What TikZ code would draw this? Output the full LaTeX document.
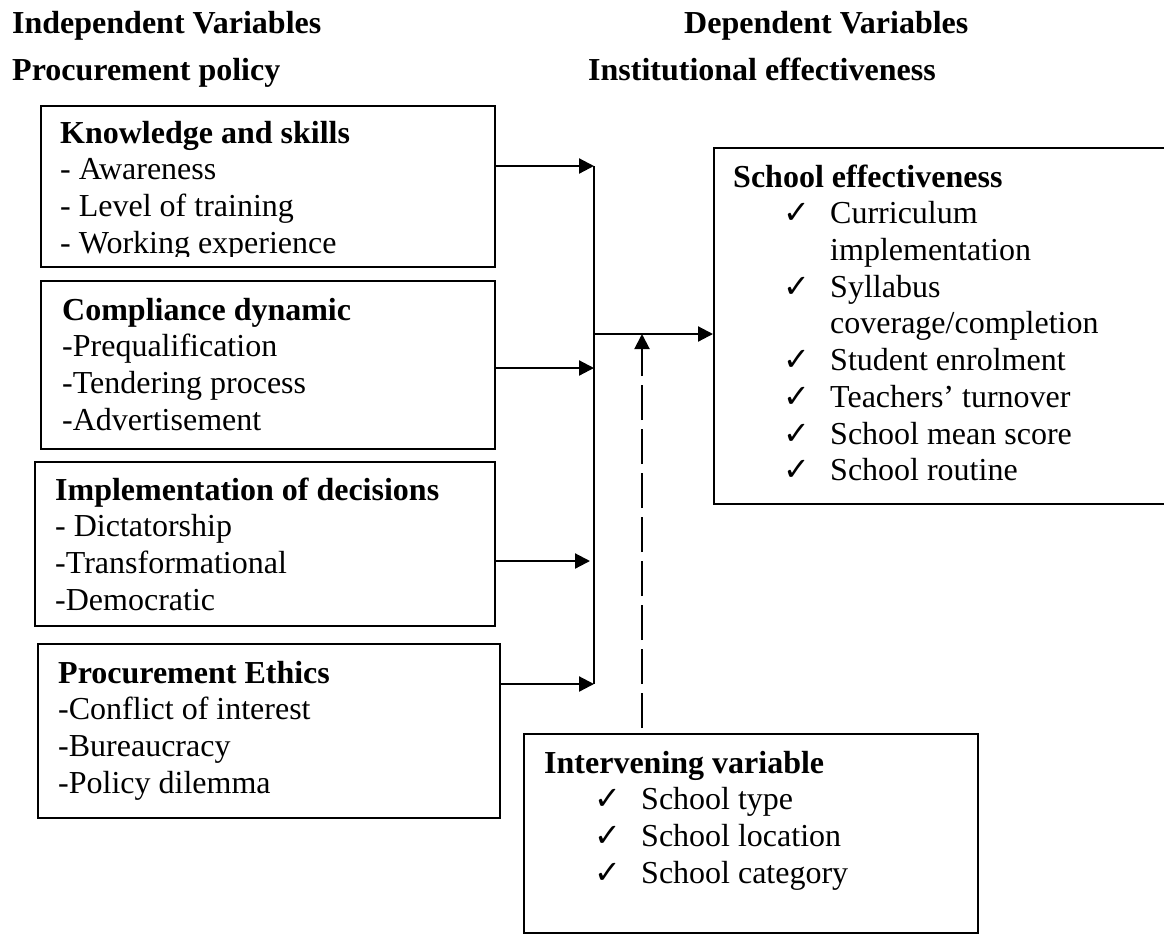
\documentclass[tikz,border=0pt]{standalone}
\usepackage{fontspec}
\setmainfont{Liberation Serif}
\newfontfamily\chkfont{DejaVu Sans}
\usetikzlibrary{arrows.meta}

\newcommand{\chk}{\smash{\chkfont\fontsize{32}{32}\selectfont ✓}}
\newcommand{\chkitem}[1]{\hspace*{50pt}\makebox[47pt][l]{\chk}#1}
\newcommand{\chkcont}[1]{\hspace*{97pt}#1}

\begin{document}
\begin{tikzpicture}[x=1pt, y=-1pt]
		\tikzset{
			every node/.style={
				inner sep=0pt,
				font=\fontsize{32}{36.7}\selectfont
			},
			box/.style={
				draw,
				rectangle,
				line width=2pt,
				anchor=north west
			},
			txt/.style={
				anchor=north west,
				align=left
			},
			head/.style={
				anchor=base west,
				font=\fontsize{32}{36.7}\selectfont\bfseries
			},
			line/.style={
				-{Triangle[length=15pt, width=15pt]},
				line width=2.2pt
			},
			dashline/.style={
				-{Triangle[length=15pt, width=15pt]},
				line width=2pt,
				dash pattern=on 35pt off 9pt
			}
		}

		\useasboundingbox (0,0) rectangle (1164,935);

		\node[head] (indep) at (12,33) {Independent Variables};
		\node[head] (dep) at (684,33) {Dependent Variables};
		\node[head] (policy) at (12,80) {Procurement policy};
		\node[head] (inst) at (588,80) {Institutional effectiveness};

		\node[box, minimum width=454pt, minimum height=161pt] (know) at (40,105) {};
		\node[box, minimum width=454pt, minimum height=168pt] (comp) at (40,280) {};
		\node[box, minimum width=460pt, minimum height=164pt] (impl) at (34,461) {};
		\node[box, minimum width=462pt, minimum height=174pt] (ethic) at (37,643) {};
		\node[box, minimum width=455pt, minimum height=356pt] (school) at (713,147) {};
		\node[box, minimum width=454pt, minimum height=199pt] (interv) at (523,733) {};

		% last line of the first box is cut off
		\begin{scope}
			\clip (40,105) rectangle (494,256);
			\node[txt] (know-txt) at (60,117.3)
				{\strut\textbf{Knowledge and skills}\\- Awareness\\- Level of training\\- Working experience};
		\end{scope}
		\node[txt] (comp-txt) at (62,294.3)
			{\strut\textbf{Compliance dynamic}\\-Prequalification\\-Tendering process\\-Advertisement};
		\node[txt] (impl-txt) at (55,474.3)
			{\strut\textbf{Implementation of decisions}\\- Dictatorship\\-Transformational\\-Democratic};
		\node[txt] (ethic-txt) at (58,657.3)
			{\strut\textbf{Procurement Ethics}\\-Conflict of interest\\-Bureaucracy\\-Policy dilemma};
		\node[txt] (school-txt) at (733,161.3)
			{\strut\textbf{School effectiveness}\\
			\chkitem{Curriculum}\\ \chkcont{implementation}\\
			\chkitem{Syllabus}\\ \chkcont{coverage/completion}\\
			\chkitem{Student enrolment}\\ \chkitem{Teachers’ turnover}\\
			\chkitem{School mean score}\\ \chkitem{School routine}};
		\node[txt] (interv-txt) at (544,747.3)
			{\strut\textbf{Intervening variable}\\
			\chkitem{School type}\\ \chkitem{School location}\\ \chkitem{School category}};

		\coordinate (bus-top) at (594,166);
		\coordinate (bus-bot) at (594,684);
		\coordinate (bus-out) at (594,334);
		\coordinate (join2) at (594,368);
		\coordinate (join3) at (590,561);
		\coordinate (meet) at (642,334);

		\draw[line width=2pt] (bus-top) -- (bus-bot);

		\draw[line] (bus-top -| know.east) -- (bus-top);
		\draw[line] (join2 -| comp.east) -- (join2);
		\draw[line] (join3 -| impl.east) -- (join3);
		\draw[line] (bus-bot -| ethic.east) -- (bus-bot);

		\draw[line] (bus-out) -- (bus-out -| school.west);
		\draw[dashline, shorten <=5pt] (meet |- interv.north) -- (meet);

	\end{tikzpicture}
\end{document}
